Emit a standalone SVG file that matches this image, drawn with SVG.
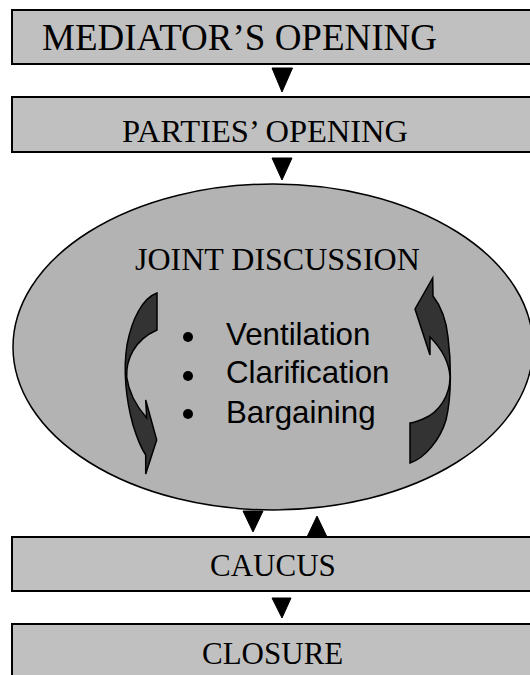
<svg xmlns="http://www.w3.org/2000/svg" width="530" height="675" viewBox="0 0 530 675">
<style>
.box{fill:#c0c0c0;stroke:#000;stroke-width:2}
.t{font-family:"Liberation Serif","Times New Roman",serif;font-size:32px;fill:#000}
.b{font-family:"Liberation Sans",Arial,sans-serif;font-size:31.3px;fill:#000}
.tri{fill:#000;stroke:#000;stroke-width:1}
.cur{fill:#333;stroke:#000;stroke-width:1.5;stroke-linejoin:miter}
</style>
<rect width="530" height="675" fill="#fff"/>
<g id="mediators-opening">
<rect class="box" x="12" y="10" width="525" height="54"/>
<text class="t" x="42" y="50" style="font-size:37px">MEDIATOR’S OPENING</text>
</g>
<g id="parties-opening">
<rect class="box" x="12" y="97" width="525" height="55"/>
<text class="t" x="122" y="142" style="font-size:32.5px">PARTIES’ OPENING</text>
</g>
<g id="joint-discussion">
<ellipse cx="273" cy="347" rx="260" ry="163" fill="#b3b3b3" stroke="#000" stroke-width="1.5"/>
<text class="t" x="135" y="270">JOINT DISCUSSION</text>
<path class="cur" d="M157,293 C143,298 132,318 127,345 C123,370 126,400 133,425 C137,438 141,448 145.7,455 L145.7,474 L156.7,440 L145.7,400 L146.7,418 C138,408 129,395 126.7,377 C126,360 134,340 157,330 Z"/>
<path class="cur" d="M410,463 C425,458 440,440 446,420 C452,395 451,360 448,337 C446,318 440,305 433,296 L432.7,278 L415,309 L430,355 L430,337 C440,347 449,360 450,377 C450,395 440,412 423,419 C418,421 413,423 410,423 Z"/>
<circle cx="188" cy="337" r="5"/>
<circle cx="188" cy="376" r="5"/>
<circle cx="188" cy="414" r="5"/>
<text class="b" x="226" y="345">Ventilation</text>
<text class="b" x="226" y="383">Clarification</text>
<text class="b" x="226" y="423">Bargaining</text>
</g>
<g id="caucus">
<rect class="box" x="12" y="537" width="525" height="54"/>
<text class="t" x="210" y="576" style="font-size:31px">CAUCUS</text>
</g>
<g id="closure">
<rect class="box" x="12" y="624" width="525" height="60"/>
<text class="t" x="202" y="664" style="font-size:31px">CLOSURE</text>
</g>
<g id="connectors">
<polygon class="tri" points="272,68 292.5,68 282,92"/>
<polygon class="tri" points="272,158 292,158 282,180"/>
<polygon class="tri" points="243,511 263,511 253,532"/>
<polygon class="tri" points="307,537 327,537 317,516"/>
<polygon class="tri" points="272,598 291,598 282,618"/>
</g>
</svg>
